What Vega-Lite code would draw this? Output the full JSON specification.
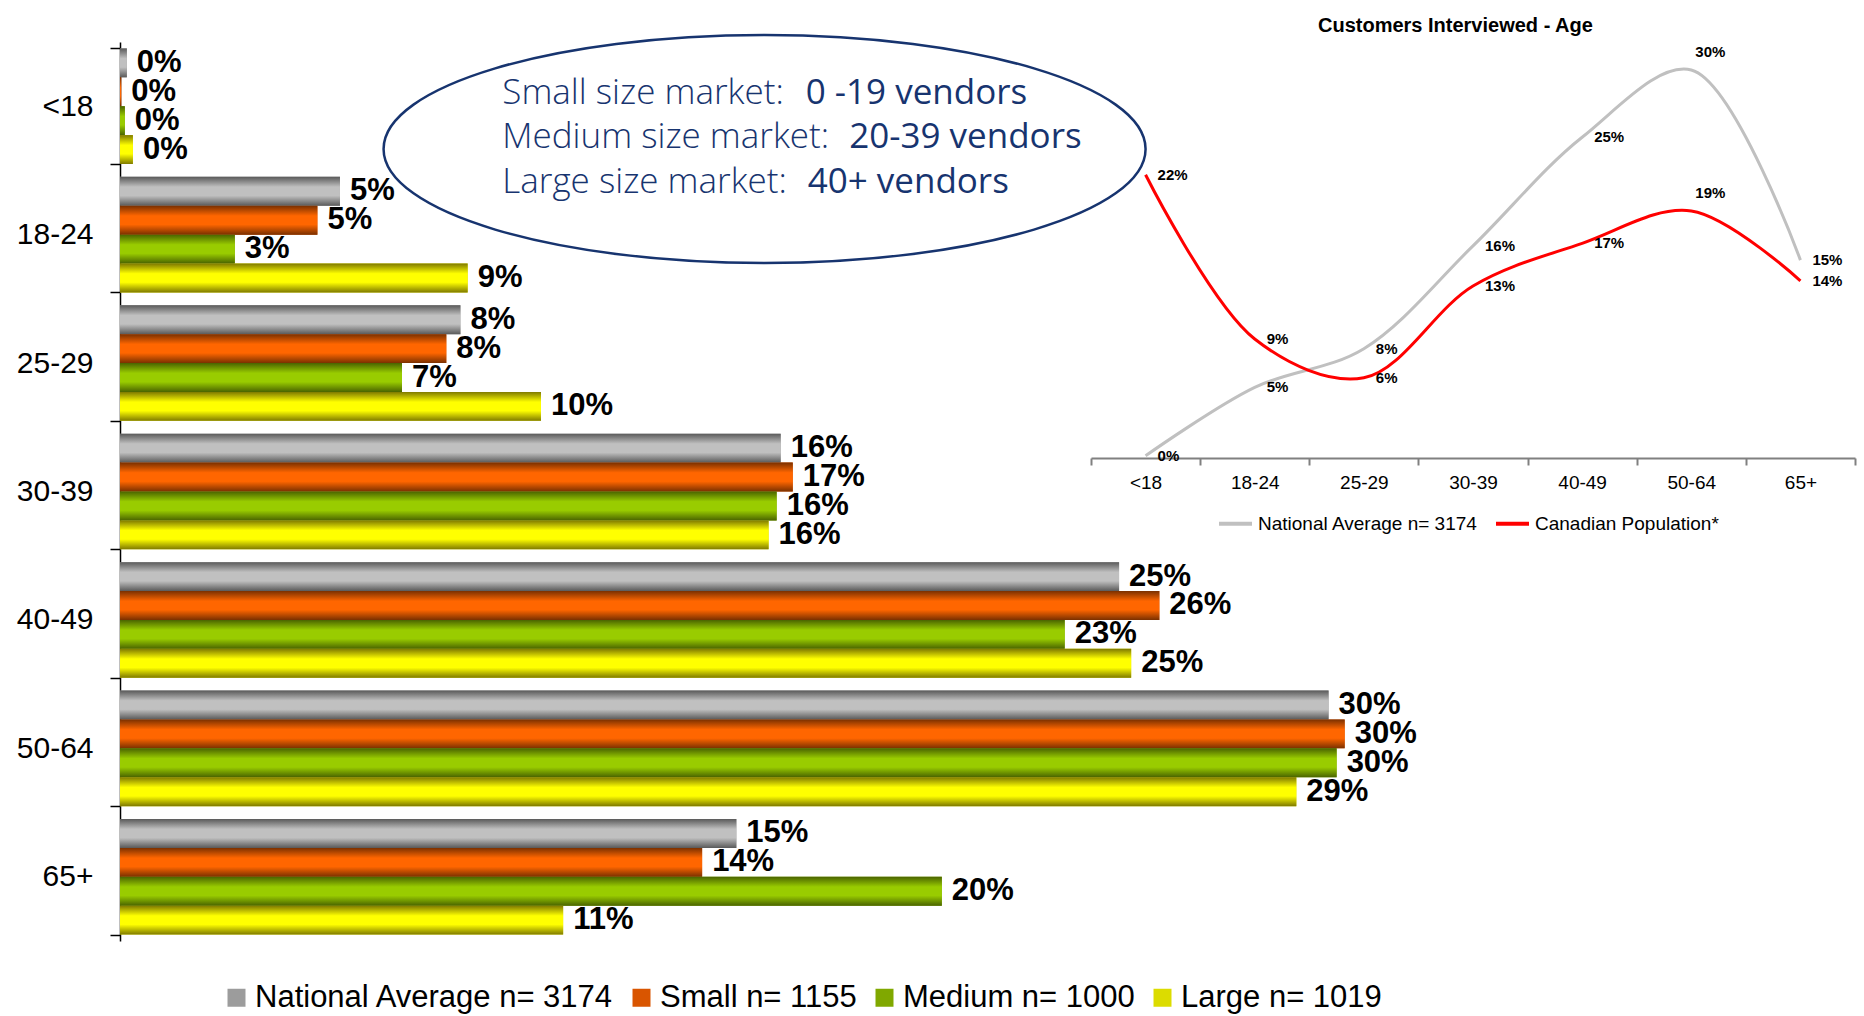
{
  "$schema": "https://vega.github.io/schema/vega-lite/v6.json",
  "width": 1410,
  "height": 899,
  "autosize": {"type": "none"},
  "padding": {"left": 120, "top": 42, "right": 334, "bottom": 75},
  "background": "white",
  "config": {"view": {"stroke": null}, "font": "Liberation Sans"},
  "title": {"text": "Customers Interviewed - Age", "anchor": "start", "frame": "group", "dx": 1198, "dy": 14, "offset": 5, "fontSize": 20, "font": "Liberation Sans", "fontWeight": "bold", "color": "black"},
  "datasets": {
    "bars": [
      {"age": "<18", "series": "National Average n= 3174", "value": 0.0017},
      {"age": "<18", "series": "Small n= 1155", "value": 0.0003},
      {"age": "<18", "series": "Medium n= 1000", "value": 0.0012},
      {"age": "<18", "series": "Large n= 1019", "value": 0.0032},
      {"age": "18-24", "series": "National Average n= 3174", "value": 0.0546},
      {"age": "18-24", "series": "Small n= 1155", "value": 0.049},
      {"age": "18-24", "series": "Medium n= 1000", "value": 0.0285},
      {"age": "18-24", "series": "Large n= 1019", "value": 0.0863},
      {"age": "25-29", "series": "National Average n= 3174", "value": 0.0845},
      {"age": "25-29", "series": "Small n= 1155", "value": 0.081},
      {"age": "25-29", "series": "Medium n= 1000", "value": 0.07},
      {"age": "25-29", "series": "Large n= 1019", "value": 0.1045},
      {"age": "30-39", "series": "National Average n= 3174", "value": 0.164},
      {"age": "30-39", "series": "Small n= 1155", "value": 0.167},
      {"age": "30-39", "series": "Medium n= 1000", "value": 0.163},
      {"age": "30-39", "series": "Large n= 1019", "value": 0.161},
      {"age": "40-49", "series": "National Average n= 3174", "value": 0.248},
      {"age": "40-49", "series": "Small n= 1155", "value": 0.258},
      {"age": "40-49", "series": "Medium n= 1000", "value": 0.2345},
      {"age": "40-49", "series": "Large n= 1019", "value": 0.251},
      {"age": "50-64", "series": "National Average n= 3174", "value": 0.3},
      {"age": "50-64", "series": "Small n= 1155", "value": 0.304},
      {"age": "50-64", "series": "Medium n= 1000", "value": 0.302},
      {"age": "50-64", "series": "Large n= 1019", "value": 0.292},
      {"age": "65+", "series": "National Average n= 3174", "value": 0.153},
      {"age": "65+", "series": "Small n= 1155", "value": 0.1445},
      {"age": "65+", "series": "Medium n= 1000", "value": 0.204},
      {"age": "65+", "series": "Large n= 1019", "value": 0.11}
    ],
    "lines": [
      {"age": "<18", "series": "National Average n= 3174", "value": 0.0017},
      {"age": "18-24", "series": "National Average n= 3174", "value": 0.0546},
      {"age": "25-29", "series": "National Average n= 3174", "value": 0.0845},
      {"age": "30-39", "series": "National Average n= 3174", "value": 0.164},
      {"age": "40-49", "series": "National Average n= 3174", "value": 0.248},
      {"age": "50-64", "series": "National Average n= 3174", "value": 0.3},
      {"age": "65+", "series": "National Average n= 3174", "value": 0.153},
      {"age": "<18", "series": "Canadian Population*", "value": 0.219},
      {"age": "18-24", "series": "Canadian Population*", "value": 0.092},
      {"age": "25-29", "series": "Canadian Population*", "value": 0.062},
      {"age": "30-39", "series": "Canadian Population*", "value": 0.133},
      {"age": "40-49", "series": "Canadian Population*", "value": 0.166},
      {"age": "50-64", "series": "Canadian Population*", "value": 0.191},
      {"age": "65+", "series": "Canadian Population*", "value": 0.137}
    ]
  },
  "layer": [
    {
      "layer": [
        {
          "data": {"name": "bars"},
          "mark": {"type": "bar"},
          "encoding": {
            "y": {"field": "age", "type": "nominal",
              "scale": {"domain": ["<18", "18-24", "25-29", "30-39", "40-49", "50-64", "65+"], "paddingInner": 0.1, "paddingOuter": 0.05},
              "axis": {"orient": "left", "title": null, "domain": true, "domainColor": "black", "domainWidth": 1.5, "ticks": true, "tickColor": "black", "tickSize": 10, "tickWidth": 1.5, "tickBand": "extent", "labelFontSize": 30, "labelFont": "Liberation Sans", "labelColor": "black", "labelPadding": 17, "grid": false}},
            "yOffset": {"field": "series", "type": "nominal",
              "scale": {"domain": ["National Average n= 3174", "Small n= 1155", "Medium n= 1000", "Large n= 1019"], "paddingInner": 0, "paddingOuter": 0}},
            "x": {"field": "value", "type": "quantitative", "scale": {"domain": [0, 0.35], "nice": false}, "axis": null},
            "fill": {"field": "series", "type": "nominal",
              "scale": {"domain": ["National Average n= 3174", "Small n= 1155", "Medium n= 1000", "Large n= 1019"], "range": ["#9c9c9c", "#d95500", "#80a800", "#dcdc00"]},
              "legend": {"orient": "none", "legendX": 101, "legendY": 940, "direction": "horizontal", "columns": 4, "title": null, "symbolType": "square", "symbolSize": 324, "symbolStrokeWidth": 0, "labelFontSize": 31, "labelFont": "Liberation Sans", "labelColor": "black", "labelOffset": 3, "columnPadding": 12, "labelLimit": 600}}
          }
        },
        {
          "data": {"name": "bars"},
          "mark": {"type": "bar"},
          "encoding": {
            "y": {"field": "age", "type": "nominal"},
            "yOffset": {"field": "series", "type": "nominal"},
            "x": {"field": "value", "type": "quantitative"},
            "fill": {
              "condition": [
                {"test": "datum.series === 'Small n= 1155'", "value": {"gradient": "linear", "x1": 0, "y1": 0, "x2": 0, "y2": 1, "stops": [{"offset": 0, "color": "#7a3000"}, {"offset": 0.35, "color": "#ff6600"}, {"offset": 0.65, "color": "#ff6600"}, {"offset": 1, "color": "#7a3000"}]}},
                {"test": "datum.series === 'Medium n= 1000'", "value": {"gradient": "linear", "x1": 0, "y1": 0, "x2": 0, "y2": 1, "stops": [{"offset": 0, "color": "#4a6400"}, {"offset": 0.35, "color": "#99cc00"}, {"offset": 0.65, "color": "#99cc00"}, {"offset": 1, "color": "#4a6400"}]}},
                {"test": "datum.series === 'Large n= 1019'", "value": {"gradient": "linear", "x1": 0, "y1": 0, "x2": 0, "y2": 1, "stops": [{"offset": 0, "color": "#7f7a00"}, {"offset": 0.35, "color": "#ffff00"}, {"offset": 0.65, "color": "#ffff00"}, {"offset": 1, "color": "#7f7a00"}]}}
              ],
              "value": {"gradient": "linear", "x1": 0, "y1": 0, "x2": 0, "y2": 1, "stops": [{"offset": 0, "color": "#5a5a5a"}, {"offset": 0.35, "color": "#c0c0c0"}, {"offset": 0.65, "color": "#c0c0c0"}, {"offset": 1, "color": "#5a5a5a"}]}
            }
          }
        },
        {
          "data": {"name": "bars"},
          "mark": {"type": "text", "align": "left", "baseline": "middle", "dx": 10, "fontSize": 31, "fontWeight": "bold", "font": "Liberation Sans", "color": "black"},
          "encoding": {
            "y": {"field": "age", "type": "nominal"},
            "yOffset": {"field": "series", "type": "nominal"},
            "x": {"field": "value", "type": "quantitative"},
            "text": {"field": "value", "type": "quantitative", "format": ".0%"}
          }
        },
        {
          "data": {"values": [{"note": "market sizes"}]},
          "mark": {"type": "point", "shape": "M -1 0 A 1 0.2992 0 1 1 1 0 A 1 0.2992 0 1 1 -1 0 Z", "size": 580644, "filled": false, "stroke": "#17346f", "strokeWidth": 2.5, "opacity": 1},
          "encoding": {
            "x": {"datum": 0.16, "type": "quantitative"},
            "y": {"datum": "<18", "type": "nominal", "bandPosition": 0.87}
          }
        },
        {
          "data": {"values": [{"note": "market sizes"}]},
          "mark": {"type": "text", "text": ["Small size market:", "Medium size market:", "Large size market:"], "lineHeight": 44.3, "align": "left", "baseline": "alphabetic", "font": "Open Sans", "fontSize": 35, "fontWeight": 300, "color": "#17346f"},
          "encoding": {
            "x": {"datum": 0.0949, "type": "quantitative"},
            "y": {"datum": "<18", "type": "nominal", "bandPosition": 0.481}
          }
        },
        {
          "data": {"values": [{"note": "market sizes"}]},
          "mark": {"type": "text", "text": "0 -19 vendors", "align": "left", "baseline": "alphabetic", "font": "Open Sans", "fontSize": 35, "fontWeight": 400, "color": "#17346f"},
          "encoding": {
            "x": {"datum": 0.1702, "type": "quantitative"},
            "y": {"datum": "<18", "type": "nominal", "bandPosition": 0.481}
          }
        },
        {
          "data": {"values": [{"note": "market sizes"}]},
          "mark": {"type": "text", "text": "20-39 vendors", "dy": 44.3, "align": "left", "baseline": "alphabetic", "font": "Open Sans", "fontSize": 35, "fontWeight": 400, "color": "#17346f"},
          "encoding": {
            "x": {"datum": 0.181, "type": "quantitative"},
            "y": {"datum": "<18", "type": "nominal", "bandPosition": 0.481}
          }
        },
        {
          "data": {"values": [{"note": "market sizes"}]},
          "mark": {"type": "text", "text": "40+ vendors", "dy": 88.6, "align": "left", "baseline": "alphabetic", "font": "Open Sans", "fontSize": 35, "fontWeight": 400, "color": "#17346f"},
          "encoding": {
            "x": {"datum": 0.1707, "type": "quantitative"},
            "y": {"datum": "<18", "type": "nominal", "bandPosition": 0.481}
          }
        }
      ]
    },
    {
      "data": {"name": "lines"},
      "layer": [
        {
          "mark": {"type": "line", "interpolate": "catmull-rom", "strokeWidth": 3},
          "encoding": {
            "x": {"field": "age", "type": "nominal", "bandPosition": 0.5,
              "scale": {"type": "band", "domain": ["<18", "18-24", "25-29", "30-39", "40-49", "50-64", "65+"], "range": [971, 1735], "paddingInner": 0, "paddingOuter": 0},
              "axis": {"orient": "bottom", "offset": -483, "title": null, "domainColor": "#808080", "domainWidth": 2, "tickColor": "#808080", "tickWidth": 2, "tickSize": 7, "tickBand": "extent", "labelFontSize": 19, "labelFont": "Liberation Sans", "labelColor": "black", "labelPadding": 8, "labelAngle": 0, "grid": false}},
            "y": {"field": "value", "type": "quantitative", "scale": {"domain": [0, 0.3], "range": [416, 28], "nice": false}, "axis": null},
            "stroke": {"field": "series", "type": "nominal",
              "scale": {"domain": ["National Average n= 3174", "Canadian Population*"], "range": ["#c0c0c0", "#ff0000"]},
              "legend": {"orient": "none", "legendX": 1097, "legendY": 463, "direction": "horizontal", "columns": 2, "title": null, "symbolType": "stroke", "symbolSize": 1089, "symbolStrokeWidth": 4, "labelFontSize": 19, "labelFont": "Liberation Sans", "labelColor": "black", "labelOffset": 4, "columnPadding": 10, "labelLimit": 400}}
          }
        },
        {
          "transform": [{"filter": "datum.age !== '50-64'"}],
          "mark": {"type": "text", "align": "left", "baseline": "middle", "dx": 12, "fontSize": 15, "fontWeight": "bold", "font": "Liberation Sans", "color": "black"},
          "encoding": {
            "x": {"field": "age", "type": "nominal", "bandPosition": 0.5},
            "y": {"field": "value", "type": "quantitative"},
            "text": {"field": "value", "type": "quantitative", "format": ".0%"}
          }
        },
        {
          "transform": [{"filter": "datum.age === '50-64'"}],
          "mark": {"type": "text", "align": "left", "baseline": "middle", "dx": 4, "dy": -18, "fontSize": 15, "fontWeight": "bold", "font": "Liberation Sans", "color": "black"},
          "encoding": {
            "x": {"field": "age", "type": "nominal", "bandPosition": 0.5},
            "y": {"field": "value", "type": "quantitative"},
            "text": {"field": "value", "type": "quantitative", "format": ".0%"}
          }
        }
      ]
    }
  ],
  "resolve": {"scale": {"x": "independent", "y": "independent"}, "axis": {"x": "independent", "y": "independent"}}
}
